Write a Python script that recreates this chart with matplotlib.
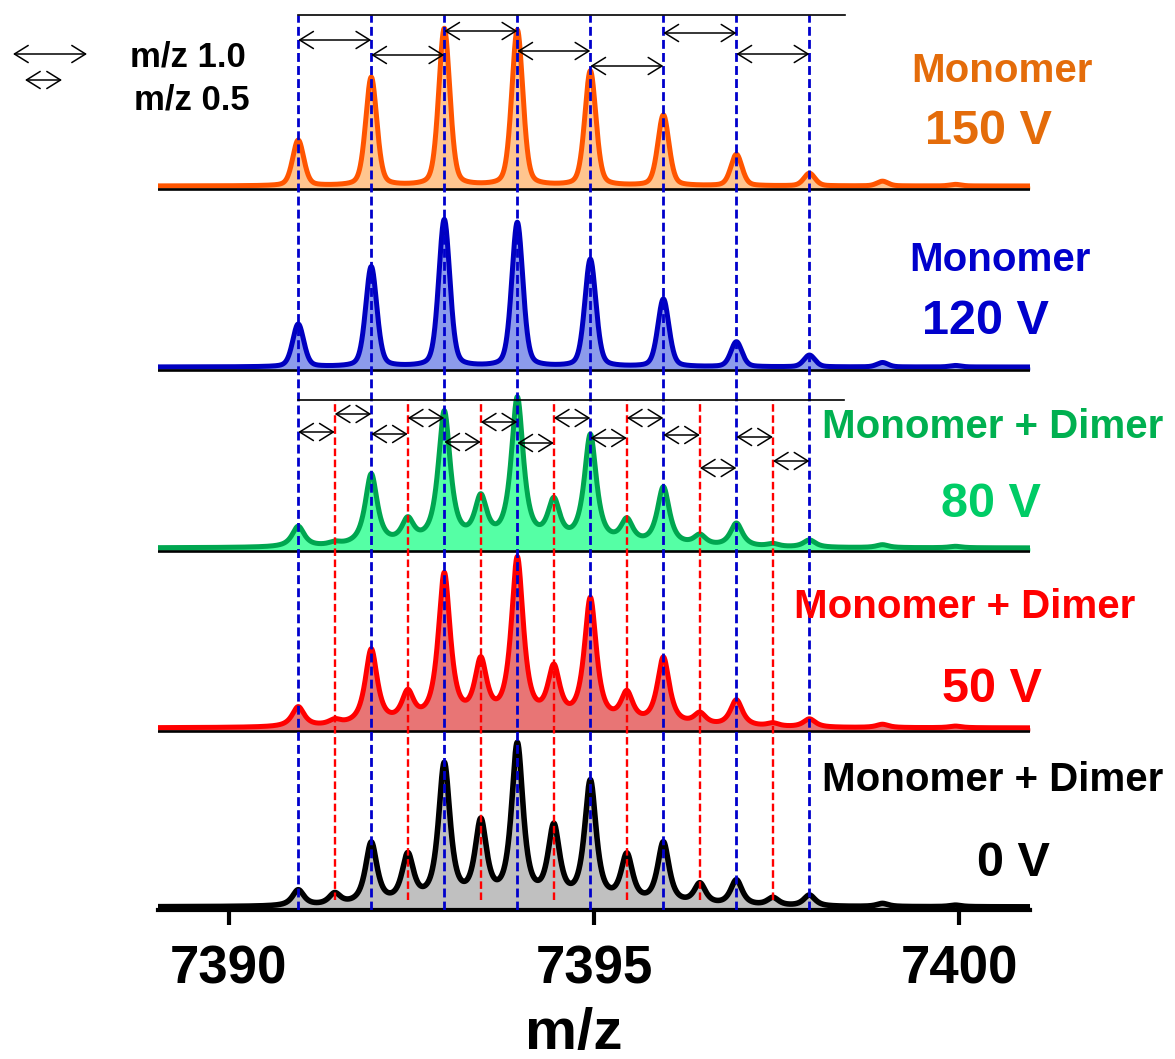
import numpy as np
import matplotlib.pyplot as plt

W, H = 1175, 1059
plt.rcParams['font.family'] = ['Liberation Sans', 'DejaVu Sans']
plt.rcParams['font.weight'] = 'bold'

# ---- data (relative intensities, %) ----
monomer_mz = [7390.95, 7391.95, 7392.95, 7393.95, 7394.95,
              7395.95, 7396.95, 7397.95, 7398.95, 7399.95]
half_mz = [7391.45, 7392.45, 7393.45, 7394.45, 7395.45, 7396.45, 7397.45]

voltages = ["150 V", "120 V", "80 V", "50 V", "0 V"]
species = ["Monomer", "Monomer", "Monomer + Dimer", "Monomer + Dimer", "Monomer + Dimer"]

mono_150 = [29, 69, 100, 99, 73, 45, 20, 8, 3, 1]
mono_120 = [29, 68, 100, 98, 73, 46, 17, 8, 3, 1]
mono_80 = [14, 49, 91, 100, 75, 40, 16, 5, 2, 1]
mono_50 = [12, 46, 91, 100, 76, 41, 16, 5, 2, 1]
mono_0 = [10, 39, 88, 100, 77, 39, 16, 7, 2, 1]

half_150 = [0, 0, 0, 0, 0, 0, 0]
half_120 = [0, 0, 0, 0, 0, 0, 0]
half_80 = [2, 16, 30, 28, 16, 7, 2]
half_50 = [3, 18, 36, 32, 18, 7, 2]
half_0 = [7, 30, 50, 47, 30, 13, 5]

xticks = [7390, 7395, 7400]

# ---- styling / layout ----
line_cols = ['#FF5500', '#0000C0', '#00A650', '#FF0000', '#000000']
fill_cols = ['#FFC58F', '#8C9BEB', '#55FFA5', '#E87575', '#C0C0C0']
name_cols = ['#E46C0A', '#0000CC', '#00B050', '#FF0000', '#000000']
volt_cols = ['#E46C0A', '#0000CC', '#00CC66', '#FF0000', '#000000']
base_y = [721, 540, 359, 179, 0]          # panel baselines (px above axis)
scale = [157, 147, 146, 165, 158]         # px for 100 %
fwhm = [0.18, 0.18, 0.2, 0.2, 0.19]
eta = [0.3, 0.3, 0.85, 0.85, 0.8]
line_w = [3.6, 3.6, 3.6, 3.6, 4.0]
name_pos = [(1002, 71), (1000, 260), (993, 427), (965, 607), (993, 780)]
volt_pos = [(988, 132), (985, 322), (991, 505), (992, 690), (1013, 863)]

full_arrow_y = [40, 55, 31, 51, 66, 33, 54]
half_arrow_y = [432, 414, 434, 418, 442, 422, 443, 418, 438, 418, 435, 468, 437, 461]

monos = [mono_150, mono_120, mono_80, mono_50, mono_0]
halves = [half_150, half_120, half_80, half_50, half_0]


def peak(x, c, w, e):
    g = np.exp(-4 * np.log(2) * ((x - c) / w) ** 2)
    l = 1 / (1 + 4 * ((x - c) / w) ** 2)
    return e * l + (1 - e) * g


def fy(ypx):
    # pixel row from top -> data y
    return 910 - ypx


fig = plt.figure(figsize=(W / 100, H / 100), dpi=100)
ax = fig.add_axes([158 / W, (H - 910) / H, (1030 - 158) / W, 910 / H])
xmin, xmax = 7389.03, 7400.97
ax.set_xlim(xmin, xmax)
ax.set_ylim(0, 910)

x = np.linspace(xmin, xmax, 5000)
for i in range(5):
    y = np.zeros_like(x)
    for c, a in zip(monomer_mz, monos[i]):
        y += a * peak(x, c, fwhm[i], eta[i])
    for c, a in zip(half_mz, halves[i]):
        y += a * peak(x, c, fwhm[i], eta[i])
    y = base_y[i] + 3 + y * scale[i] / 100
    ax.fill_between(x, base_y[i], y, color=fill_cols[i], lw=0, zorder=1)
    ax.plot(x, y, color=line_cols[i], lw=line_w[i], solid_joinstyle='round', zorder=2)
    if base_y[i] > 0:
        ax.axhline(base_y[i], color='black', lw=1.9, zorder=2)
    fig.text(name_pos[i][0] / W, 1 - name_pos[i][1] / H, species[i], color=name_cols[i],
             fontsize=29, ha='center', va='center')
    fig.text(volt_pos[i][0] / W, 1 - volt_pos[i][1] / H, voltages[i], color=volt_cols[i],
             fontsize=35, ha='center', va='center')

# dashed guide lines
for c in monomer_mz[:8]:
    ax.plot([c, c], [0, fy(15)], color='#0000CC', lw=2.0, dashes=(3.2, 1.5), zorder=3)
for c in half_mz:
    ax.plot([c, c], [10, fy(400)], color='#FF0000', lw=1.7, dashes=(3.2, 1.5), zorder=3)

# bracket lines
ax.plot([monomer_mz[0], 7398.44], [fy(15), fy(15)], color='black', lw=1.2, zorder=4)
ax.plot([monomer_mz[0], 7398.42], [fy(400), fy(400)], color='black', lw=1.2, zorder=4)

aprops = dict(arrowstyle='<->,head_length=0.45,head_width=0.28', lw=1.1, color='black',
              mutation_scale=22, shrinkA=0, shrinkB=0)
for k, yy in enumerate(full_arrow_y):
    ax.annotate('', xy=(monomer_mz[k + 1], fy(yy)), xytext=(monomer_mz[k], fy(yy)),
                arrowprops=aprops, zorder=5)
steps = sorted(monomer_mz[:8] + half_mz)
for k, yy in enumerate(half_arrow_y):
    ax.annotate('', xy=(steps[k + 1], fy(yy)), xytext=(steps[k], fy(yy)),
                arrowprops=aprops, zorder=5)

# legend arrows
ax.annotate('', xy=(87 / W, 1 - 54 / H), xytext=(13 / W, 1 - 54 / H),
            xycoords='figure fraction', textcoords='figure fraction', arrowprops=aprops)
ax.annotate('', xy=(62 / W, 1 - 80 / H), xytext=(25 / W, 1 - 80 / H),
            xycoords='figure fraction', textcoords='figure fraction', arrowprops=aprops)
fig.text(188 / W, 1 - 57 / H, 'm/z 1.0', fontsize=25, ha='center', va='center')
fig.text(192 / W, 1 - 100 / H, 'm/z 0.5', fontsize=25, ha='center', va='center')

# axes
for s in ['left', 'right', 'top']:
    ax.spines[s].set_visible(False)
ax.spines['bottom'].set_linewidth(3)
ax.set_yticks([])
ax.set_xticks(xticks)
ax.set_xticklabels([str(t) for t in xticks])
ax.tick_params(axis='x', length=11, width=3, labelsize=38, pad=14)
fig.text(574 / W, 10 / H, 'm/z', fontsize=42, ha='center', va='baseline')

fig.savefig('out.png', dpi=100)
